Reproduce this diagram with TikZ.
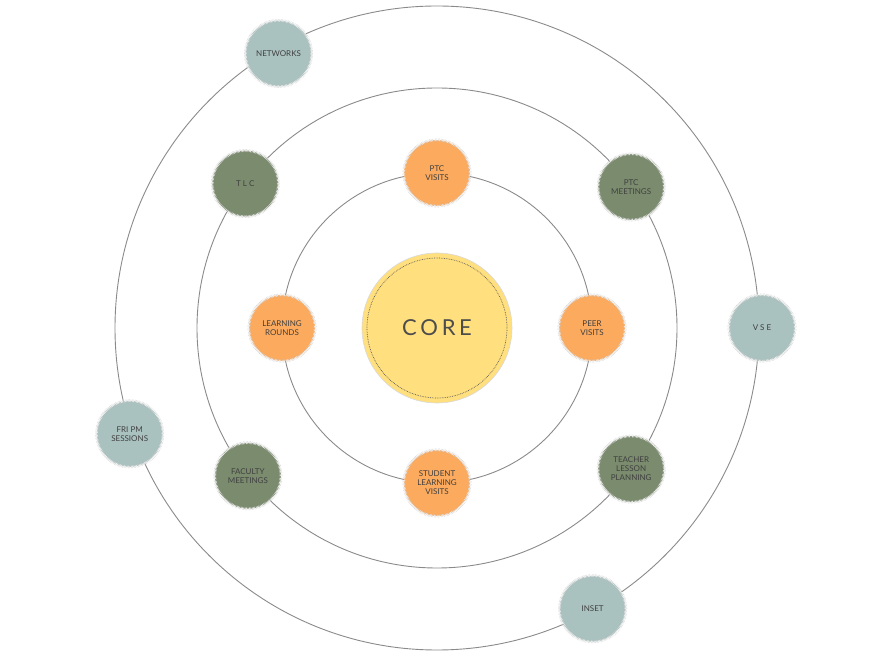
\documentclass[tikz,border=0pt]{standalone}
\usepackage{fontspec}
\setmainfont{Lato}
\usetikzlibrary{positioning, calc}
\definecolor{corey}{HTML}{FFDF7E}
\definecolor{orng}{HTML}{FBAA5E}
\definecolor{sage}{HTML}{7B8B6E}
\definecolor{mist}{HTML}{AAC2BF}
\definecolor{ringc}{HTML}{8A8A8A}
\tikzset{
    ring/.style={draw=ringc, line width=0.9pt},
    spot/.style={circle, minimum size=66pt, inner sep=0pt, align=center, font=\fontsize{8}{9}\selectfont, text=black!75,
        double=white, double distance=2pt, draw=gray!50, densely dotted},
    inner/.style={spot, fill=orng},
    middle/.style={spot, fill=sage},
    outer/.style={spot, fill=mist}
}
\begin{document}
\begin{tikzpicture}[x=1pt, y=1pt]
            \useasboundingbox (0,0) rectangle (881,661);
            \coordinate (c) at (437,333);

            % orbits
            \draw[ring] (c) circle (155);
            \draw[ring] (c) circle (240);
            \draw[ring] (c) circle (322);

            % core
            \node[circle, fill=corey, minimum size=150pt, draw=gray!30, line width=0.6pt] (core) at (c) {};
            \draw[densely dotted, gray!70!black, line width=0.7pt] (c) circle (70);
            \node[font=\fontsize{22}{24}\selectfont, text=black!70] (corelbl) at (c) {C\,O\,R\,E};

            % inner orbit
            \node[inner] (ptcv) at ($(c)+(90:155)$) {PTC\\VISITS};
            \node[inner] (peer) at ($(c)+(0:155)$) {PEER\\VISITS};
            \node[inner] (stud) at ($(c)+(270:155)$) {STUDENT\\LEARNING\\VISITS};
            \node[inner] (lrnr) at ($(c)+(180:155)$) {LEARNING\\ROUNDS};

            % middle orbit
            \node[middle] (tlc) at ($(c)+(143:240)$) {T L C};
            \node[middle] (ptcm) at ($(c)+(36:240)$) {PTC\\MEETINGS};
            \node[middle] (tlp) at ($(c)+(324:240)$) {TEACHER\\LESSON\\PLANNING};
            \node[middle] (fac) at ($(c)+(218:240)$) {FACULTY\\MEETINGS};

            % outer orbit
            \node[outer] (netw) at ($(c)+(120:317)$) {NETWORKS};
            \node[outer] (vse) at ($(c)+(0:325)$) {V S E};
            \node[outer] (inset) at ($(c)+(299:321)$) {INSET};
            \node[outer] (fripm) at ($(c)+(199:325)$) {FRI PM\\SESSIONS};
        \end{tikzpicture}
\end{document}
